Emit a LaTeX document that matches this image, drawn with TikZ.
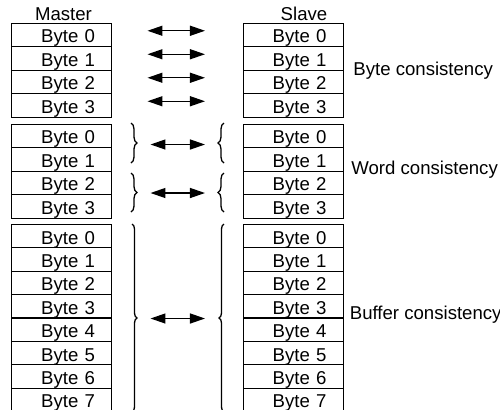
\documentclass[tikz,border=0pt]{standalone}
\usepackage{fontspec}
\setmainfont{Liberation Sans}
\usetikzlibrary{arrows.meta,decorations.pathreplacing}

\begin{document}
\begin{tikzpicture}[
  x=0.5pt,y=-0.5pt,
  cell/.style={draw, line width=0.5pt, minimum width=50pt, minimum height=11.75pt, text width=33pt, align=right, inner xsep=8.5pt, inner ysep=0pt, text height=9.9pt, text depth=1.85pt, font=\fontsize{9.3pt}{11pt}\selectfont},
  head/.style={font=\fontsize{9.3pt}{11pt}\selectfont, anchor=base, inner sep=0pt},
  lab/.style={font=\fontsize{9.3pt}{11pt}\selectfont, anchor=base west, inner sep=0pt},
  sync/.style={{Triangle[length=7.5pt,width=5pt]}-{Triangle[length=7.5pt,width=5pt]}, line width=0.65pt},
  brc/.style={decorate, decoration={brace, amplitude=3pt}, line width=0.65pt}
]
\useasboundingbox (0,0) rectangle (500,409);
\clip (0,0) rectangle (500,409);
\node[head] (master) at (63.5,20) {Master};
\node[head] (slave) at (304,20) {Slave};
% byte consistency
\foreach \i in {0,...,3} {
  \node[cell] (bm\i) at (62,{34.75+23.5*\i}) {Byte \i};
  \node[cell] (bs\i) at (293.5,{34.75+23.5*\i}) {Byte \i};
  \draw[sync, shorten <=17.5pt, shorten >=19pt] ([yshift=2pt]bm\i.east) -- ([yshift=2pt]bs\i.west);
}
\node[lab] (byte) at (353,75) {Byte consistency};
% word consistency
\foreach \i in {0,...,3} {
  \node[cell] (wm\i) at (62,{135.75+23.5*\i}) {Byte \i};
  \node[cell] (ws\i) at (293.5,{135.75+23.5*\i}) {Byte \i};
}
\draw[sync, shorten <=19pt, shorten >=19pt] ([yshift=1.75pt]wm0.south east) -- ([yshift=1.75pt]ws0.south west);
\draw[sync, shorten <=19pt, shorten >=19pt] ([yshift=1pt]wm2.south east) -- ([yshift=1pt]ws2.south west);
\draw[brc] (131,123) -- (131,163);
\draw[brc] (131,173) -- (131,212);
\draw[brc] (224,163) -- (224,123);
\draw[brc] (224,212) -- (224,173);
\node[lab] (word) at (351,174) {Word consistency};
% buffer consistency
\foreach \i in {0,...,7} {
  \node[cell] (um\i) at (62,{236.05+23.4*\i}) {Byte \i};
  \node[cell] (us\i) at (293.5,{236.05+23.4*\i}) {Byte \i};
}
\draw[sync, shorten <=19pt, shorten >=19pt] (um3.south east) -- (us3.south west);
\draw[brc, decoration={amplitude=2.5pt}] (132,224) -- (132,412);
\draw[brc, decoration={amplitude=2.5pt}] (224,412) -- (224,224);
\node[lab] (buffer) at (349.5,319) {Buffer consistency};
\end{tikzpicture}
\end{document}
